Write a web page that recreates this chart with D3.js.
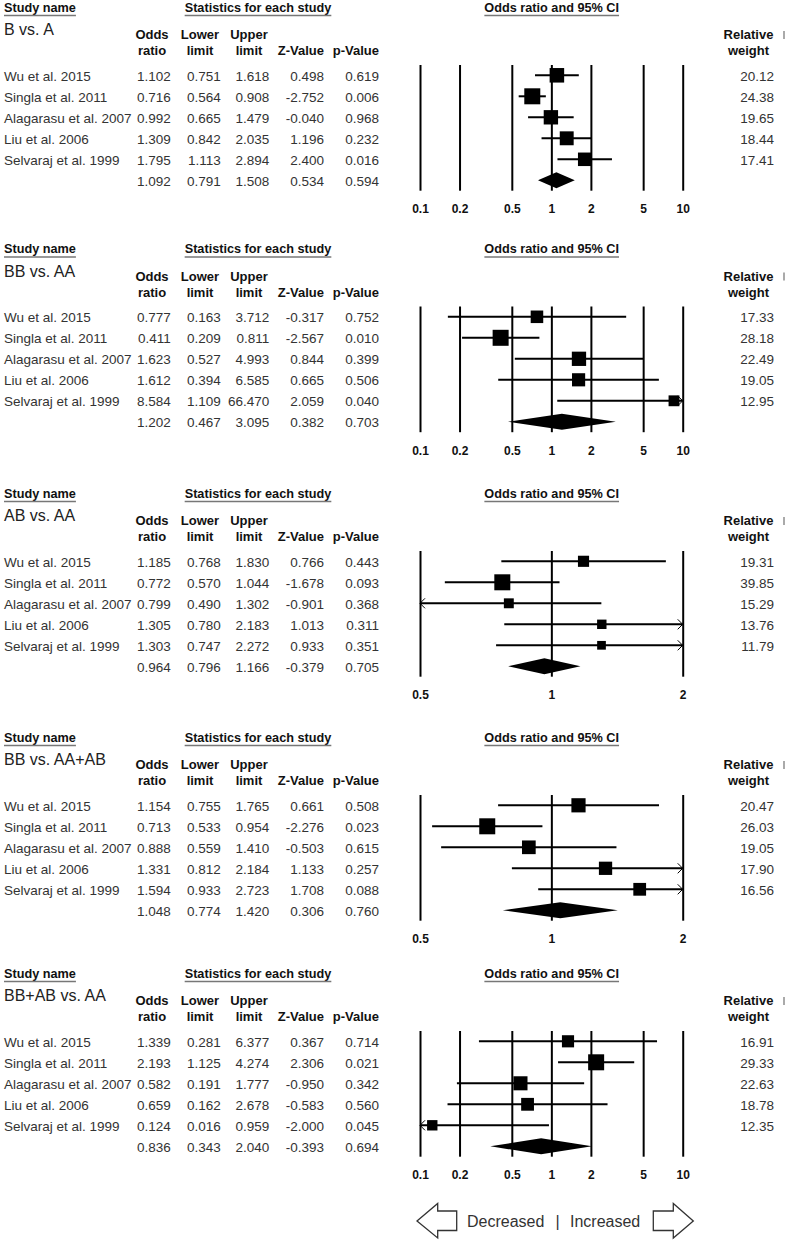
<!DOCTYPE html>
<html>
<head>
<meta charset="utf-8">
<script src="https://cdn.jsdelivr.net/npm/d3@7"></script>
<style>
  body { margin: 0; background: #fff; }
  text { font-family: "Liberation Sans", Arial, sans-serif; }
</style>
</head>
<body>
<div id="chart"></div>
<script>
// one forest plot per genetic model, same five studies in each
const studies = ['Wu et al. 2015', 'Singla et al. 2011', 'Alagarasu et al. 2007', 'Liu et al. 2006', 'Selvaraj et al. 1999']
const comparisons = ['B vs. A', 'BB vs. AA', 'AB vs. AA', 'BB vs. AA+AB', 'BB+AB vs. AA']

// last value of each row is the pooled estimate
const oddsRatio = [
  [1.102, 0.716, 0.992, 1.309, 1.795, 1.092],
  [0.777, 0.411, 1.623, 1.612, 8.584, 1.202],
  [1.185, 0.772, 0.799, 1.305, 1.303, 0.964],
  [1.154, 0.713, 0.888, 1.331, 1.594, 1.048],
  [1.339, 2.193, 0.582, 0.659, 0.124, 0.836]
]
const lowerLimit = [
  [0.751, 0.564, 0.665, 0.842, 1.113, 0.791],
  [0.163, 0.209, 0.527, 0.394, 1.109, 0.467],
  [0.768, 0.570, 0.490, 0.780, 0.747, 0.796],
  [0.755, 0.533, 0.559, 0.812, 0.933, 0.774],
  [0.281, 1.125, 0.191, 0.162, 0.016, 0.343]
]
const upperLimit = [
  [1.618, 0.908, 1.479, 2.035, 2.894, 1.508],
  [3.712, 0.811, 4.993, 6.585, 66.470, 3.095],
  [1.830, 1.044, 1.302, 2.183, 2.272, 1.166],
  [1.765, 0.954, 1.410, 2.184, 2.723, 1.420],
  [6.377, 4.274, 1.777, 2.678, 0.959, 2.040]
]
const zValue = [
  [0.498, -2.752, -0.040, 1.196, 2.400, 0.534],
  [-0.317, -2.567, 0.844, 0.665, 2.059, 0.382],
  [0.766, -1.678, -0.901, 1.013, 0.933, -0.379],
  [0.661, -2.276, -0.503, 1.133, 1.708, 0.306],
  [0.367, 2.306, -0.950, -0.583, -2.000, -0.393]
]
const pValue = [
  [0.619, 0.006, 0.968, 0.232, 0.016, 0.594],
  [0.752, 0.010, 0.399, 0.506, 0.040, 0.703],
  [0.443, 0.093, 0.368, 0.311, 0.351, 0.705],
  [0.508, 0.023, 0.615, 0.257, 0.088, 0.760],
  [0.714, 0.021, 0.342, 0.560, 0.045, 0.694]
]
const relWeight = [
  [20.12, 24.38, 19.65, 18.44, 17.41],
  [17.33, 28.18, 22.49, 19.05, 12.95],
  [19.31, 39.85, 15.29, 13.76, 11.79],
  [20.47, 26.03, 19.05, 17.90, 16.56],
  [16.91, 29.33, 22.63, 18.78, 12.35]
]
const wideTicks = [0.1, 0.2, 0.5, 1, 2, 5, 10]
const narrowTicks = [0.5, 1, 2]
const axisTicks = [wideTicks, wideTicks, narrowTicks, narrowTicks, wideTicks]

// layout
const W = 787, H = 1242
const panelTops = [0, 241.5, 486, 730, 966]
const plotRange = [420, 682.7]
const lineTop = 65, lineBottom = 190.7
// plain hyphen for negatives, like the original table
const locale = d3.formatLocale({ decimal: '.', thousands: ',', grouping: [3], currency: ['', ''], minus: '-' })
const fmt3 = locale.format('.3f')
const fmt2 = locale.format('.2f')
const bodySize = 13.5

const svg = d3.select('#chart')
  .append('svg')
  .attr('width', W)
  .attr('height', H)

// table columns: values, right edge
const columns = [
  { vals: oddsRatio, x: 170.7 },
  { vals: lowerLimit, x: 220.7 },
  { vals: upperLimit, x: 269.3 },
  { vals: zValue, x: 324 },
  { vals: pValue, x: 379 }
]

function underlinedTitle(g, label, x, anchor) {
  const t = g.append('text')
    .attr('x', x).attr('y', 11.7)
    .attr('text-anchor', anchor)
    .attr('font-size', 12.7).attr('font-weight', 'bold').attr('fill', '#111')
    .text(label)
  const bb = t.node().getBBox()
  g.append('line')
    .attr('x1', bb.x).attr('x2', bb.x + bb.width)
    .attr('y1', 15.5).attr('y2', 15.5)
    .attr('stroke', '#777').attr('stroke-width', 1.5)
}

comparisons.forEach(function(name, k) {
  const g = svg.append('g').attr('transform', `translate(0, ${panelTops[k]})`)

  underlinedTitle(g, 'Study name', 4, 'start')
  underlinedTitle(g, 'Statistics for each study', 258, 'middle')
  underlinedTitle(g, 'Odds ratio and 95% CI', 551.7, 'middle')

  g.append('text')
    .attr('x', 4).attr('y', 35)
    .attr('font-size', 16).attr('fill', '#222')
    .text(name)

  // column headers
  const head = [
    ['Odds', 'ratio', 152, 'middle'],
    ['Lower', 'limit', 200, 'middle'],
    ['Upper', 'limit', 249, 'middle'],
    ['', 'Z-Value', 324, 'end'],
    ['', 'p-Value', 379, 'end'],
    ['Relative', 'weight', 748.5, 'middle']
  ]
  head.forEach(function(h) {
    [h[0], h[1]].forEach(function(s, i) {
      g.append('text')
        .attr('x', h[2]).attr('y', i ? 55 : 39)
        .attr('text-anchor', h[3])
        .attr('font-size', 13).attr('font-weight', 'bold').attr('fill', '#111')
        .text(s)
    })
  })
  // clipped header at the right edge
  g.append('rect').attr('x', 783).attr('y', 31).attr('width', 2).attr('height', 8).attr('fill', '#aaa')

  const y = d3.scaleLinear().domain([0, 5]).range([75.3, 180.3])

  // table body
  g.selectAll('.study')
    .data(studies)
    .enter().append('text')
      .attr('class', 'study')
      .attr('x', 4)
      .attr('y', function(d, i) { return y(i) + 5.5 })
      .attr('font-size', bodySize).attr('fill', '#333')
      .text(function(d) { return d })

  columns.forEach(function(c) {
    g.selectAll(null)
      .data(c.vals[k])
      .enter().append('text')
        .attr('x', c.x)
        .attr('y', function(d, i) { return y(i) + 5.5 })
        .attr('text-anchor', 'end')
        .attr('font-size', bodySize).attr('fill', '#333')
        .text(function(d) { return fmt3(d) })
  })

  g.selectAll(null)
    .data(relWeight[k])
    .enter().append('text')
      .attr('x', 774)
      .attr('y', function(d, i) { return y(i) + 5.5 })
      .attr('text-anchor', 'end')
      .attr('font-size', bodySize).attr('fill', '#333')
      .text(function(d) { return fmt2(d) })

  // forest plot
  const ticks = axisTicks[k]
  const x = d3.scaleLog()
    .domain([ticks[0], ticks[ticks.length - 1]])
    .range(plotRange)

  const axisG = g.append('g')
    .attr('transform', `translate(0, ${lineBottom})`)
    .call(d3.axisBottom(x)
      .tickValues(ticks)
      .tickFormat(d3.format('~g'))
      .tickSizeInner(-(lineBottom - lineTop))
      .tickSizeOuter(0)
      .tickPadding(14))
  axisG.select('.domain').remove()
  axisG.selectAll('.tick line').attr('stroke', '#000').attr('stroke-width', 2)
  axisG.selectAll('.tick text')
    .attr('font-family', '"Liberation Sans", Arial, sans-serif')
    .attr('font-size', 12).attr('font-weight', 'bold').attr('fill', '#111')

  const lo = x.domain()[0], hi = x.domain()[1]
  const rows = studies.map(function(s, i) {
    return { or: oddsRatio[k][i], l: lowerLimit[k][i], u: upperLimit[k][i], w: relWeight[k][i], i: i }
  })

  g.selectAll('.ci')
    .data(rows)
    .enter().append('line')
      .attr('x1', function(d) { return x(Math.max(d.l, lo)) })
      .attr('x2', function(d) { return x(Math.min(d.u, hi)) })
      .attr('y1', function(d) { return y(d.i) })
      .attr('y2', function(d) { return y(d.i) })
      .attr('stroke', '#000').attr('stroke-width', 2)

  // open arrowheads where the interval runs off the axis
  rows.forEach(function(d) {
    const cy = y(d.i)
    if (d.l < lo) {
      const xe = x(lo)
      g.append('path').attr('d', `M${xe + 5},${cy - 5}L${xe},${cy}L${xe + 5},${cy + 5}`)
        .attr('fill', 'none').attr('stroke', '#000').attr('stroke-width', 1)
    }
    if (d.u > hi) {
      const xe = x(hi)
      g.append('path').attr('d', `M${xe - 5},${cy - 5}L${xe},${cy}L${xe - 5},${cy + 5}`)
        .attr('fill', 'none').attr('stroke', '#000').attr('stroke-width', 1)
    }
  })

  const size = d3.scaleSqrt().domain([0, d3.max(relWeight[k])]).range([0, 16])
  g.selectAll('.box')
    .data(rows)
    .enter().append('rect')
      .attr('x', function(d) { return x(d.or) - size(d.w) / 2 })
      .attr('y', function(d) { return y(d.i) - size(d.w) / 2 })
      .attr('width', function(d) { return size(d.w) })
      .attr('height', function(d) { return size(d.w) })
      .attr('fill', '#000')

  // pooled diamond
  const cy = y(5)
  const xl = x(lowerLimit[k][5]), xm = x(oddsRatio[k][5]), xr = x(upperLimit[k][5])
  g.append('path')
    .attr('d', `M${xl},${cy}L${xm},${cy - 8}L${xr},${cy}L${xm},${cy + 8}Z`)
    .attr('fill', '#000')
})

// favours legend at the bottom
const ly = 1221
const legend = svg.append('g')
legend.append('path')
  .attr('d', `M417,${ly}L437.7,${ly - 17.5}L437.7,${ly - 10}L456.7,${ly - 10}L456.7,${ly + 9.5}L437.7,${ly + 9.5}L437.7,${ly + 17}Z`)
  .attr('fill', '#fff').attr('stroke', '#333').attr('stroke-width', 1.3)
legend.append('path')
  .attr('d', `M693.3,${ly}L673.3,${ly - 17.5}L673.3,${ly - 10}L653.3,${ly - 10}L653.3,${ly + 9.5}L673.3,${ly + 9.5}L673.3,${ly + 17}Z`)
  .attr('fill', '#fff').attr('stroke', '#333').attr('stroke-width', 1.3)
legend.append('text').attr('x', 467).attr('y', ly + 6).attr('font-size', 16).attr('fill', '#333').text('Decreased')
legend.append('text').attr('x', 557.7).attr('y', ly + 6).attr('text-anchor', 'middle').attr('font-size', 16).attr('fill', '#333').text('|')
legend.append('text').attr('x', 570).attr('y', ly + 6).attr('font-size', 16).attr('fill', '#333').text('Increased')
</script>
</body>
</html>
